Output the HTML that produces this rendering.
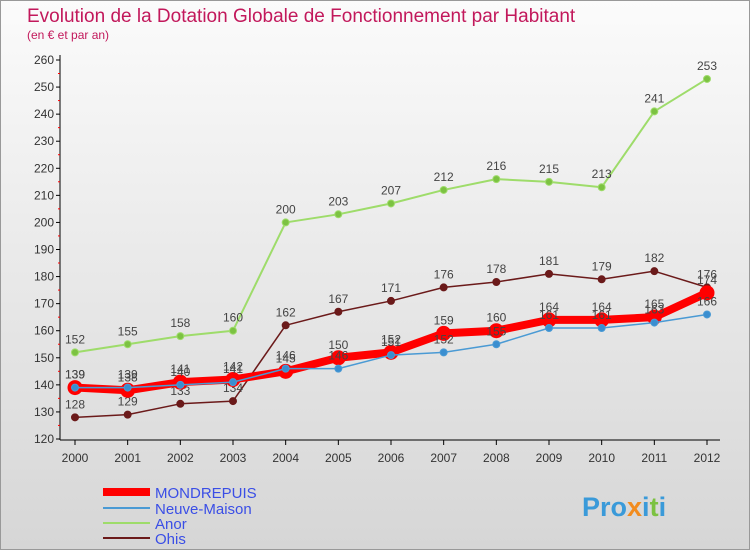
<!DOCTYPE html>
<html><head><meta charset="utf-8"><style>
body{margin:0;width:750px;height:550px;overflow:hidden;font-family:"Liberation Sans",sans-serif}
</style></head><body>
<svg width="750" height="550" xmlns="http://www.w3.org/2000/svg">
<defs><linearGradient id="bg" x1="0" y1="0" x2="0" y2="1"><stop offset="0" stop-color="#fbfbfb"/><stop offset="1" stop-color="#d6d6d6"/></linearGradient></defs>
<rect x="0.5" y="0.5" width="749" height="549" fill="url(#bg)" stroke="#999"/>
<text x="27" y="22" font-size="19" fill="#c2185b">Evolution de la Dotation Globale de Fonctionnement par Habitant</text>
<text x="27" y="39" font-size="12" fill="#c2185b">(en € et par an)</text>
<g id="axes"></g><g id="series"></g>
<g>
<line x1="103" y1="492" x2="150" y2="492" stroke="#f00" stroke-width="8"/>
<text x="155" y="498" font-size="15" fill="#3a4ee6">MONDREPUIS</text>
<line x1="103" y1="508" x2="150" y2="508" stroke="#4a9ad4" stroke-width="2"/>
<text x="155" y="514" font-size="15" fill="#3a4ee6">Neuve-Maison</text>
<line x1="103" y1="523" x2="150" y2="523" stroke="#9edc6a" stroke-width="2"/>
<text x="155" y="529" font-size="15" fill="#3a4ee6">Anor</text>
<line x1="103" y1="538" x2="150" y2="538" stroke="#6b1a1a" stroke-width="2"/>
<text x="155" y="544" font-size="15" fill="#3a4ee6">Ohis</text>
</g>
<text x="582" y="516" font-size="27" font-weight="bold" fill="#3a9ad9">Pro<tspan fill="#f28c1e">x</tspan>i<tspan fill="#7cc242">t</tspan>i</text>
</svg>
<script>
const years=[2000,2001,2002,2003,2004,2005,2006,2007,2008,2009,2010,2011,2012];
const mondrepuis=[139,138,141,142,145,150,152,159,160,164,164,165,174];
const neuveMaison=[139,139,140,141,146,146,151,152,155,161,161,163,166];
const anor=[152,155,158,160,200,203,207,212,216,215,213,241,253];
const ohis=[128,129,133,134,162,167,171,176,178,181,179,182,176];
const yTicks=[120,130,140,150,160,170,180,190,200,210,220,230,240,250,260];
const NS="http://www.w3.org/2000/svg";
const X=i=>75+i*(707-75)/12, Y=v=>439-(v-120)*(379/140);
function mk(p,t,a){const e=document.createElementNS(NS,t);for(const k in a)e.setAttribute(k,a[k]);p.appendChild(e);return e;}
const ax=document.getElementById('axes');
let l=mk(ax,'line',{x1:60,y1:55,x2:60,y2:440,stroke:'#000'});


l=mk(ax,'line',{x1:60,y1:440,x2:720,y2:440,stroke:'#000'});


yTicks.forEach(v=>{const y=Y(v);mk(ax,'line',{x1:56,y1:y,x2:60,y2:y,stroke:'#000'});
if(y+13.5<439)mk(ax,'line',{x1:58,y1:y+13.5,x2:60,y2:y+13.5,stroke:'#f00'});
const t=mk(ax,'text',{x:54,y:y+4,'font-size':12,'text-anchor':'end',fill:'#333'});t.textContent=v;

});
years.forEach((yr,i)=>{mk(ax,'line',{x1:X(i),y1:440,x2:X(i),y2:445,stroke:'#000'});
const t=mk(ax,'text',{x:X(i),y:462,'font-size':12,'text-anchor':'middle',fill:'#333'});t.textContent=yr;

});
const sg=document.getElementById('series');
function series(name,data,color,w,r,dot){const g=mk(sg,'g',{});


mk(g,'polyline',{points:data.map((v,i)=>X(i)+','+Y(v)).join(' '),fill:'none',stroke:color,'stroke-width':w,'stroke-linejoin':'round'});
data.forEach((v,i)=>{const c=mk(g,'circle',{cx:X(i),cy:Y(v),r:r,fill:dot,stroke:color,'stroke-width':1});


const t=mk(g,'text',{x:X(i),y:Y(v)-9,'font-size':12,'text-anchor':'middle',fill:'#444'});t.textContent=v;

});}
series('anor',anor,'#9edc6a',2,3.5,'#7cc242');
series('ohis',ohis,'#6b1a1a',1.5,3.5,'#6b1a1a');
series('mondrepuis',mondrepuis,'#f00',8,7,'#f00');
series('neuve-maison',neuveMaison,'#4a9ad4',1.5,3.5,'#3a8ed0');
</script>
</body></html>
